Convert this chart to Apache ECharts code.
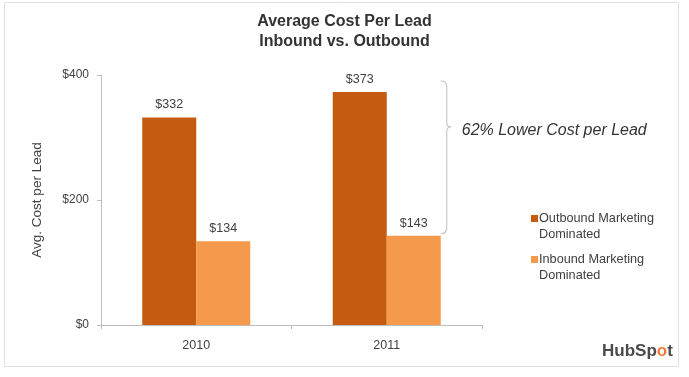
<!DOCTYPE html>
<html>
<head>
<meta charset="utf-8">
<script src="https://cdn.jsdelivr.net/npm/echarts@6/dist/echarts.min.js"></script>
<style>
  html, body { margin: 0; padding: 0; background: #fff; }
  #root { width: 689px; height: 377px; }
</style>
</head>
<body>
<div id="root"></div>
<script>
  // chart data
  var years = ['2010', '2011'];
  var outbound = [332, 373];
  var inbound = [134, 143];
  var seriesNames = ['Outbound Marketing Dominated', 'Inbound Marketing Dominated'];
  var yTicks = [0, 200, 400];

  var FONT = '"Liberation Sans", Arial, sans-serif';
  var TXT = '#404040';
  var BAR_W = 54;

  // square icon that sits on the first line of a two-line legend label
  var legendIcon = 'path://M0,0L0.01,0M0,4L7,4L7,11L0,11ZM0,31L0.01,31';

  var chart = echarts.init(document.getElementById('root'), null, { renderer: 'canvas' });

  var labelOpt = {
    show: true,
    position: 'top',
    distance: 6,
    color: TXT,
    fontFamily: FONT,
    fontSize: 12.5,
    formatter: function (p) { return '$' + p.value; }
  };

  var option = {
    animation: false,
    backgroundColor: '#fff',
    textStyle: { fontFamily: FONT },
    title: {
      text: 'Average Cost Per Lead\nInbound vs. Outbound',
      left: 'center',
      top: 7,
      textStyle: { fontFamily: FONT, fontSize: 16, fontWeight: 'bold', color: '#333', lineHeight: 20 }
    },
    legend: {
      orient: 'vertical',
      left: 526,
      top: 206,
      itemWidth: 7,
      itemHeight: 31,
      itemGap: 10,
      icon: legendIcon,
      data: seriesNames,
      formatter: function (name) {
        return name.replace(' Dominated', '\nDominated');
      },
      textStyle: { fontFamily: FONT, fontSize: 12.7, color: TXT, lineHeight: 15.5, padding: [0, 0, 0, -4] }
    },
    grid: { left: 101, right: 207, top: 75, bottom: 52 },
    xAxis: {
      type: 'category',
      data: years,
      axisLine: { lineStyle: { color: '#bdbdbd' } },
      axisTick: { show: true, length: 4, lineStyle: { color: '#bdbdbd' } },
      axisLabel: { color: TXT, fontSize: 12.5, margin: 14, fontFamily: FONT }
    },
    yAxis: {
      type: 'value',
      min: yTicks[0],
      max: yTicks[yTicks.length - 1],
      interval: 200,
      name: 'Avg. Cost per Lead',
      nameLocation: 'middle',
      nameGap: 57,
      nameTextStyle: { color: TXT, fontSize: 13.5, fontFamily: FONT },
      axisLine: { show: true, lineStyle: { color: '#bdbdbd' } },
      axisTick: { show: true, length: 4, lineStyle: { color: '#bdbdbd' } },
      splitLine: { show: false },
      axisLabel: {
        color: TXT, fontSize: 12, margin: 12, fontFamily: FONT,
        formatter: function (v) { return '$' + v; }
      }
    },
    series: [
      {
        name: seriesNames[0],
        type: 'bar',
        data: outbound,
        barWidth: BAR_W,
        barGap: '0%',
        itemStyle: { color: '#C55A11' },
        label: labelOpt
      },
      {
        name: seriesNames[1],
        type: 'bar',
        data: inbound,
        barWidth: BAR_W,
        itemStyle: { color: '#F59A4C' },
        label: labelOpt
      }
    ]
  };

  chart.setOption(option);

  // brace + note spanning 2011 outbound to inbound, placed from the axis scale
  var last = years.length - 1;
  var topPt = chart.convertToPixel({ seriesIndex: 0 }, [last, outbound[last]]);
  var botPt = chart.convertToPixel({ seriesIndex: 1 }, [last, inbound[last]]);
  var bx = botPt[0] + BAR_W;        // right edge of the inbound bar (point is the category centre)
  var y0 = topPt[1] - 11;
  var y1 = botPt[1] - 2;
  var ym = y0 + 46;
  var braceStyle = { stroke: '#c8c8c8', lineWidth: 1.2, fill: null };

  function curve(x1, yy1, cx, cy, x2, yy2) {
    return { type: 'bezierCurve', silent: true, style: braceStyle,
      shape: { x1: x1, y1: yy1, cpx1: cx, cpy1: cy, x2: x2, y2: yy2 } };
  }
  function seg(x1, yy1, x2, yy2) {
    return { type: 'line', silent: true, style: braceStyle,
      shape: { x1: x1, y1: yy1, x2: x2, y2: yy2 } };
  }

  chart.setOption({
    graphic: [
      {
        type: 'rect',
        shape: { x: 4.5, y: 2.5, width: 674, height: 364 },
        style: { fill: null, stroke: '#e2e2e2', lineWidth: 1 },
        silent: true
      },
      curve(bx, y0, bx + 6, y0, bx + 6, y0 + 6),
      seg(bx + 6, y0 + 6, bx + 6, ym - 5),
      curve(bx + 6, ym - 5, bx + 6, ym, bx + 10, ym),
      curve(bx + 10, ym, bx + 6, ym, bx + 6, ym + 5),
      seg(bx + 6, ym + 5, bx + 6, y1 - 6),
      curve(bx + 6, y1 - 6, bx + 6, y1, bx, y1),
      {
        type: 'text',
        x: bx + 21,
        y: ym + 4,
        style: {
          text: '62% Lower Cost per Lead',
          font: 'italic 16px ' + FONT,
          fill: '#333',
          verticalAlign: 'middle'
        }
      },
      {
        type: 'text',
        x: 602,
        y: 351,
        style: {
          text: '{a|HubSp}{b|o}{a|t}',
          verticalAlign: 'middle',
          rich: {
            a: { fontFamily: FONT, fontSize: 17, fontWeight: 'bold', fill: '#4a4a4a' },
            b: { fontFamily: FONT, fontSize: 17, fontWeight: 'bold', fill: '#F47A3A' }
          }
        }
      }
    ]
  });
</script>
</body>
</html>
